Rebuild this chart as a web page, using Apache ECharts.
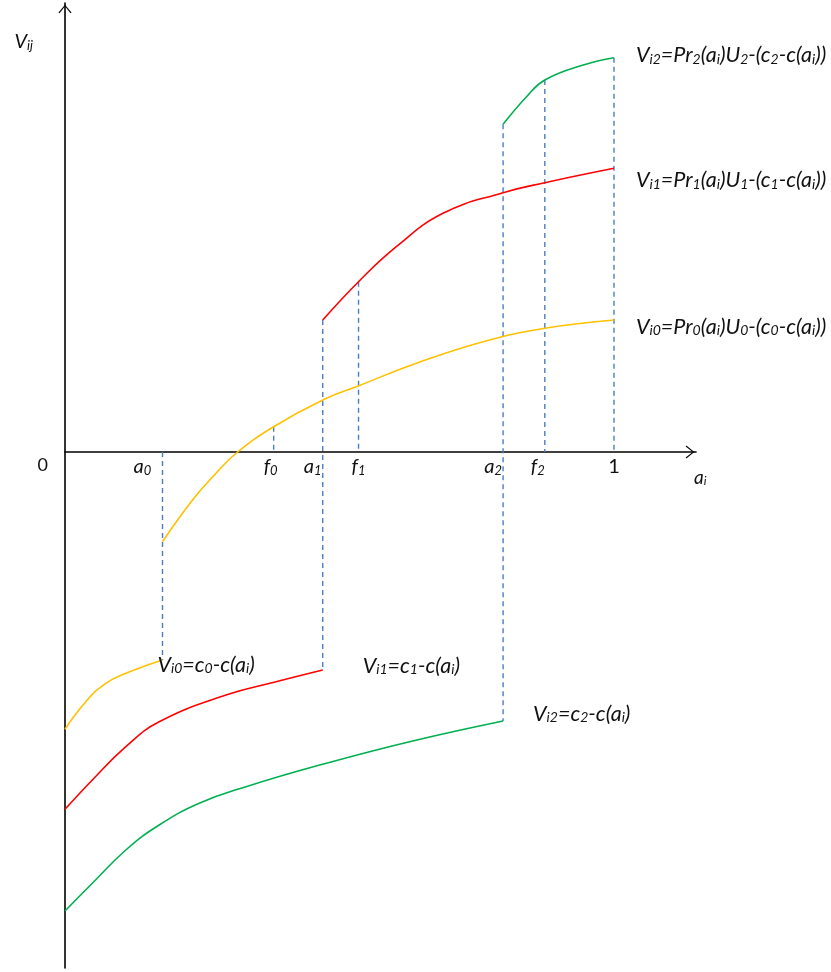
<!DOCTYPE html>
<html><head><meta charset="utf-8">
<script src="https://cdn.jsdelivr.net/npm/echarts@6/dist/echarts.min.js"></script>
<style>html,body{margin:0;padding:0;background:#fff}#c{width:831px;height:972px}</style>
</head><body><div id="c"></div>
<script>
// ---- data ----
const tickValues = [0.1776, 0.3801, 0.4695, 0.5347, 0.798, 0.874, 1];
const tickLabels = ['a_{0}', 'f_{0}', 'a_{1}', 'f_{1}', 'a_{2}', 'f_{2}', '1'];

const upper0 = [[0.1776,-0.897],[0.2323,-0.48],[0.275,-0.213],[0.3144,0.0],[0.3801,0.253],[0.4695,0.52],[0.5352,0.663],[0.64,0.887],[0.7615,1.103],[0.874,1.237],[1,1.32]];
const upper1 = [[0.4695,1.32],[0.5347,1.703],[0.6035,2.053],[0.6885,2.387],[0.798,2.593],[0.874,2.693],[1,2.837]];
const upper2 = [[0.798,3.277],[0.8407,3.553],[0.874,3.72],[0.944,3.87],[1,3.943]];
const lower0 = [[0,-2.773],[0.0378,-2.497],[0.0743,-2.313],[0.1108,-2.213],[0.1776,-2.08]];
const lower1 = [[0,-3.573],[0.0498,-3.28],[0.1108,-2.947],[0.1715,-2.697],[0.2933,-2.43],[0.3845,-2.297],[0.4695,-2.18]];
const lower2 = [[0,-4.59],[0.0498,-4.313],[0.1108,-3.98],[0.1715,-3.73],[0.2445,-3.513],[0.3297,-3.347],[0.4757,-3.113],[0.6277,-2.897],[0.798,-2.69]];

// dashed guides: [x, yTop, yBottom]
const guides = [[0.1776,0,-2.08],[0.3801,0.253,0],[0.4695,1.32,-2.18],[0.5347,1.703,0],[0.798,3.277,-2.69],[0.874,3.72,0],[1,3.943,0]];

const eqUpper = ['V_{i0}=Pr_{0}(a_{i})U_{0}-(c_{0}-c(a_{i}))','V_{i1}=Pr_{1}(a_{i})U_{1}-(c_{1}-c(a_{i}))','V_{i2}=Pr_{2}(a_{i})U_{2}-(c_{2}-c(a_{i}))'];
const eqLower = ['V_{i0}=c_{0}-c(a_{i})','V_{i1}=c_{1}-c(a_{i})','V_{i2}=c_{2}-c(a_{i})'];

const yMin = -5.16, yMax = 4.49;

// ---- helpers ----
function rich(str, mk, sk) {
  mk = mk || 'm'; sk = sk || 's';
  let out = '', last = 0, m; const re = /_\{([^}]*)\}/g;
  while ((m = re.exec(str))) {
    if (m.index > last) out += '{' + mk + '|' + str.slice(last, m.index) + '}';
    out += '{' + sk + '|' + m[1] + '}';
    last = re.lastIndex;
  }
  if (last < str.length) out += '{' + mk + '|' + str.slice(last) + '}';
  return out;
}
const FONT = 'Lato';
function richStyles(main, sub) {
  return {
    m: {fontFamily: FONT, fontStyle: 'italic', fontSize: main, color: '#111', verticalAlign: 'bottom', lineHeight: main + 4},
    s: {fontFamily: FONT, fontStyle: 'italic', fontSize: sub, color: '#111', verticalAlign: 'bottom', lineHeight: sub},
    n: {fontFamily: FONT, fontSize: main, color: '#111', verticalAlign: 'bottom', lineHeight: main + 4}
  };
}
const tickShift = [40, 6, 20, 0, 20, 14, 0];
const tickRich = richStyles(20, 13);
tickShift.forEach((w, i) => { tickRich['g' + i] = {width: w, fontSize: 10}; });

const arrowPath = 'path://M9,0 L18,11 L16.6,12 L9,2.3 L1.4,12 L0,11 Z';
const colors = {y: '#FFC000', r: '#FF0000', g: '#00B050', d: '#4A7CC4'};

function curve(data, color, label, rs, offset) {
  return {
    type: 'line', data: data, smooth: 0.45, showSymbol: false, symbol: 'none',
    lineStyle: {color: color, width: 1.6}, silent: true, z: 3,
    endLabel: {show: true, formatter: rich(label), rich: rs, distance: 0, offset: offset}
  };
}

const series = [];
guides.forEach(g => {
  series.push({type: 'line', data: [[g[0], g[1]], [g[0], g[2]]], showSymbol: false, symbol: 'none', silent: true, z: 2,
    lineStyle: {color: colors.d, width: 1.4, type: [5, 4]}});
});
const eqRich = richStyles(21.5, 14);
series.push(curve(upper0, colors.y, eqUpper[0], eqRich, [22, 5]));
series.push(curve(upper1, colors.r, eqUpper[1], eqRich, [22, 10]));
series.push(curve(upper2, colors.g, eqUpper[2], eqRich, [22, -4]));
series.push(curve(lower0, colors.y, eqLower[0], eqRich, [-5, 3]));
series.push(curve(lower1, colors.r, eqLower[1], eqRich, [40, -6]));
series.push(curve(lower2, colors.g, eqLower[2], eqRich, [30, -9]));

const gridTop = 3, gridBottom = 4, H = 972;
const gridH = H - gridTop - gridBottom;
// distance from grid bottom up to the zero line (x axis sits on y = 0)
const zeroOffset = gridH * (0 - yMin) / (yMax - yMin);

const chart = echarts.init(document.getElementById('c'), null, {renderer: 'canvas'});
chart.setOption({
  animation: false,
  backgroundColor: '#fff',
  grid: {left: 65, right: 135, top: gridTop, bottom: gridBottom, containLabel: false, outerBoundsMode: 'none'},
  xAxis: {
    type: 'value', min: 0, max: 1.1494, position: 'bottom', offset: -zeroOffset,
    name: rich('a_{i}'), nameLocation: 'end', nameGap: -2,
    nameTextStyle: {align: 'left', verticalAlign: 'top', padding: [12, 0, 0, 0], rich: richStyles(19, 12)},
    axisLine: {show: true, onZero: false, lineStyle: {color: '#000', width: 1.6}, symbol: ['none', arrowPath], symbolSize: [13, 12], symbolOffset: [0, -6]},
    axisTick: {show: false},
    splitLine: {show: false},
    axisLabel: {
      customValues: tickValues, margin: 1, rich: tickRich,
      formatter: function (v) {
        let idx = 0, best = 1e9;
        tickValues.forEach((t, i) => { if (Math.abs(t - v) < best) { best = Math.abs(t - v); idx = i; } });
        const lab = tickLabels[idx];
        const body = lab.indexOf('_') >= 0 ? rich(lab) : '{n|' + lab + '}';
        return tickShift[idx] > 0 ? body + '{g' + idx + '| }' : body;
      }
    }
  },
  yAxis: {
    type: 'value', min: yMin, max: yMax,
    name: rich('V_{ij}'), nameLocation: 'end', nameGap: -37,
    nameTextStyle: {align: 'right', verticalAlign: 'middle', padding: [0, 32, 0, 0], rich: richStyles(20, 13)},
    axisLine: {show: true, onZero: false, lineStyle: {color: '#000', width: 1.6}, symbol: ['none', arrowPath], symbolSize: [13, 12], symbolOffset: [0, -6]},
    axisTick: {show: false},
    splitLine: {show: false},
    axisLabel: {customValues: [0], formatter: () => '0', margin: 17, verticalAlign: 'top', padding: [4, 0, 0, 0], fontFamily: FONT, fontSize: 18, color: '#111'}
  },
  series: series
});
</script></body></html>
